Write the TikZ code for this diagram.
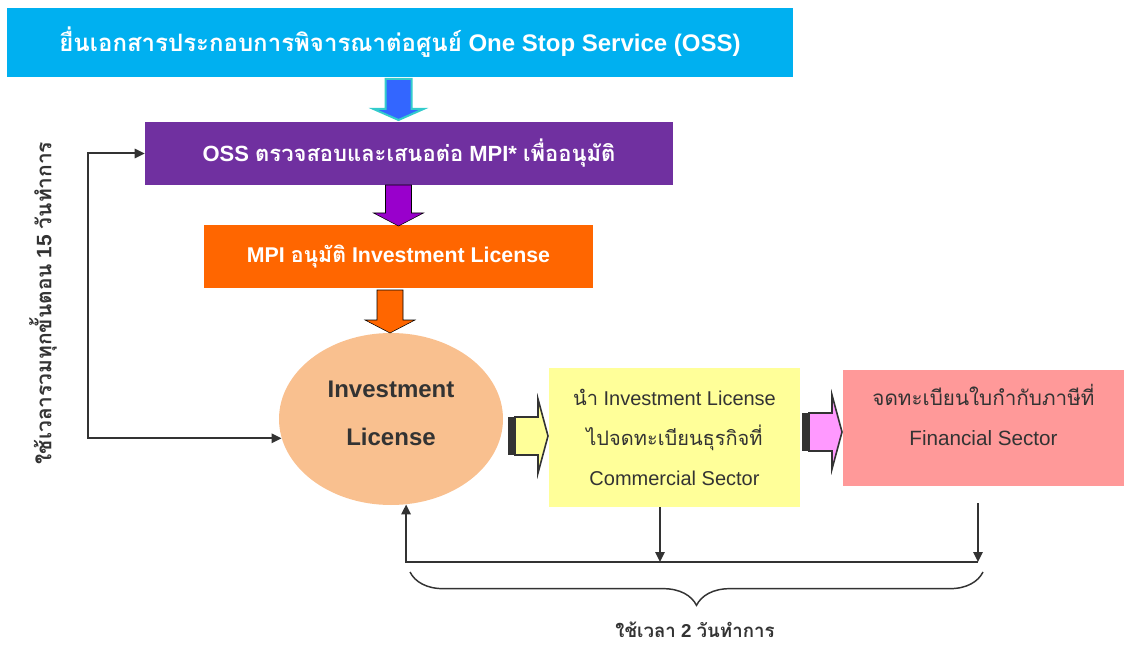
\documentclass[tikz,border=0pt]{standalone}
\usepackage{fontspec}
\setmainfont{Liberation Sans}
\newfontfamily\thaifont[Script=Thai]{Loma}
\usetikzlibrary{shapes.geometric,arrows.meta,decorations.pathreplacing}
\definecolor{topcyan}{HTML}{00B0F0}
\definecolor{ossviolet}{HTML}{7030A0}
\definecolor{mpiorange}{HTML}{FF6600}
\definecolor{licpeach}{HTML}{F9C08F}
\definecolor{comyellow}{HTML}{FFFF99}
\definecolor{finpink}{HTML}{FF9999}
\definecolor{arrowblue}{HTML}{3366FF}
\definecolor{arrowteal}{HTML}{33CCCC}
\definecolor{arrowpurple}{HTML}{9900CC}
\definecolor{pinkarrow}{HTML}{FF99FF}
\definecolor{darkline}{HTML}{333333}
\newcommand{\thaitxt}[1]{{\thaifont #1}}
\newcommand{\downblock}[5]{ \draw[#5] (#1-13,#2) -- (#1+13,#2) -- (#1+13,#3) -- (#1+25,#3) -- (#1,#4) -- (#1-25,#3) -- (#1-13,#3) -- cycle;}
\newcommand{\rightblock}[5]{ \fill[darkline] (#1,#4-19) rectangle (#1+6,#4+19);
  \draw[darkline,line width=1.2pt,fill=#5] (#1+7,#4-19) -- (#2,#4-19) -- (#2,#4-37) -- (#3,#4) -- (#2,#4+37) -- (#2,#4+19) -- (#1+7,#4+19) -- cycle;}
\tikzset{
  >={Triangle[length=7.5pt,width=7pt]},
  box/.style={rectangle, inner sep=0pt, align=center},
  headbox/.style={box, text=white, font=\fontsize{16}{19}\selectfont\bfseries},
  boxtext/.style={align=center, text=darkline, font=\fontsize{15}{30}\selectfont},
  conn/.style={draw=darkline, line width=1.5pt, ->},
  line/.style={draw=darkline, line width=1.5pt},
}
\begin{document}
\begin{tikzpicture}[x=0.75pt,y=-0.75pt]
\useasboundingbox (0,0) rectangle (1131,645);
% boxes
\node[headbox, fill=topcyan, minimum width=589.5pt, minimum height=51.75pt, font=\fontsize{18}{21}\selectfont\bfseries] (subm) at (400,42.5) {\thaitxt{ยื่นเอกสารประกอบการพิจารณาต่อศูนย์} One Stop Service (OSS)};
\node[headbox, fill=ossviolet, minimum width=396pt, minimum height=47.25pt, font=\fontsize{16.5}{19}\selectfont\bfseries] (oss) at (409,153.5) {OSS \thaitxt{ตรวจสอบและเสนอต่อ} MPI* \thaitxt{เพื่ออนุมัติ}};
\node[headbox, fill=mpiorange, minimum width=291.75pt, minimum height=47.25pt] (mpi) at (398.5,256.5) {MPI \thaitxt{อนุมัติ} Investment License};
\node[ellipse, fill=licpeach, minimum width=168pt, minimum height=129pt, inner sep=0pt, label={[align=center, text=darkline, font=\fontsize{18}{36}\selectfont\bfseries, yshift=4.5pt]center:{Investment\\License}}] (lic) at (391,419) {};
\node[box, fill=comyellow, minimum width=188.25pt, minimum height=104.25pt, boxtext] (com) at (674.5,437.5) {\thaitxt{นำ} Investment License\\\thaitxt{ไปจดทะเบียนธุรกิจที่}\\Commercial Sector};
\node[box, fill=finpink, minimum width=210.75pt, minimum height=87pt, label={[boxtext, font=\fontsize{15.5}{30}\selectfont, yshift=9.75pt]center:{\thaitxt{จดทะเบียนใบกำกับภาษีที่}\\Financial Sector}}] (fin) at (983.5,428) {};
% block arrows
\downblock{398.5}{79}{109}{120}{fill=arrowblue, draw=arrowteal, line width=1.5pt}
\downblock{398.5}{185}{213}{226}{fill=arrowpurple}
\downblock{390}{290}{320}{333}{fill=mpiorange}
\rightblock{508}{538}{548}{436}{comyellow}
\rightblock{802}{832}{842}{432}{pinkarrow}
% connectors
\coordinate (lx) at (88,0);
\coordinate (by) at (0,562);
\coordinate (cx) at (660,0);
\coordinate (fa) at (978,503);
\draw[conn, <->] (lic.190) -| (lx |- oss.west) -- (oss.west);
\draw[conn] (fa) -- (fa |- by);
\draw[conn] (fa |- by) -| (lic.280);
\draw[conn] (com.south -| cx) -- (cx |- by);
\draw[line, line width=1.1pt, decorate, decoration={brace, amplitude=25pt}] (983,572) -- (410,572);
% time labels
\node[text=darkline, font=\fontsize{14}{16}\selectfont\bfseries] (twoday) at (695,630) {\thaitxt{ใช้เวลา} 2 \thaitxt{วันทำการ}};
\node[rotate=90, text=darkline, font=\fontsize{15.7}{18}\selectfont\bfseries] (allday) at (43,303) {\thaitxt{ใช้เวลารวมทุกขั้นตอน} 15 \thaitxt{วันทำการ}};
\end{tikzpicture}
\end{document}
